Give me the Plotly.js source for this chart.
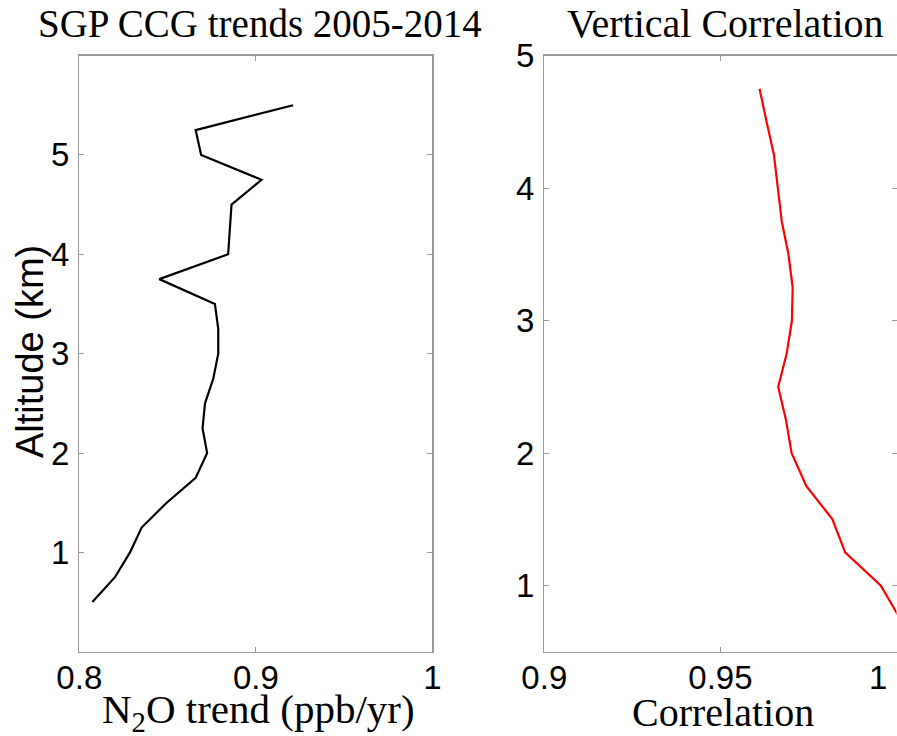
<!DOCTYPE html>
<html>
<head>
<meta charset="utf-8">
<script src="https://cdn.plot.ly/plotly-3.0.1.min.js"></script>
<style>html,body{margin:0;padding:0;background:#fff;}#chart{width:897px;height:736px;}</style>
</head>
<body>
<div id="chart"></div>
<script>
// Left panel: N2O trend profile
const altitudeTrend = [0.5, 0.75, 1.0, 1.25, 1.5, 1.75, 2.0, 2.25, 2.5, 2.75, 3.0, 3.25, 3.5, 3.75, 4.0, 4.5, 4.75, 5.0, 5.25, 5.5];
const n2oTrend = [0.8074, 0.8202, 0.8287, 0.8353, 0.8495, 0.8659, 0.8724, 0.8698, 0.8712, 0.8759, 0.8787, 0.8787, 0.8768, 0.8453, 0.8843, 0.8862, 0.9032, 0.8690, 0.8659, 0.9211];

// Right panel: vertical correlation profile
const altitudeCorr = [0.75, 1.0, 1.25, 1.5, 1.75, 2.0, 2.25, 2.5, 2.75, 3.0, 3.25, 3.5, 3.75, 4.0, 4.25, 4.5, 4.75];
const correlation = [1.0010, 0.9955, 0.9854, 0.9818, 0.9744, 0.9702, 0.9686, 0.9664, 0.9688, 0.9703, 0.9705, 0.9693, 0.9674, 0.9662, 0.9652, 0.9631, 0.9611];

const xTicksLeft = [0.8, 0.9, 1];
const xTickTextLeft = ['0.8', '0.9', '1'];
const yTicksLeft = [1, 2, 3, 4, 5];
const xTicksRight = [0.9, 0.95, 1];
const xTickTextRight = ['0.9', '0.95', '1\u00A0\u00A0\u00A0\u00A0'];
const yTicksRight = [1, 2, 3, 4, 5];

const serif = 'Liberation Serif, Times New Roman, serif';
const sans = 'Liberation Sans, Arial, Helvetica, sans-serif';
const axisColor = '#9a9a9a';

const traces = [
  {x: n2oTrend, y: altitudeTrend, type: 'scatter', mode: 'lines',
   line: {color: '#000000', width: 2.2}, xaxis: 'x', yaxis: 'y', showlegend: false, hoverinfo: 'skip'},
  {x: correlation, y: altitudeCorr, type: 'scatter', mode: 'lines',
   line: {color: '#ff0000', width: 2.2}, xaxis: 'x2', yaxis: 'y2', showlegend: false, hoverinfo: 'skip'}
];

function axisBase() {
  return {
    showline: true, linecolor: axisColor, linewidth: 1.3, mirror: 'ticks',
    ticks: 'inside', ticklen: 5, tickwidth: 1, tickcolor: axisColor,
    showgrid: false, zeroline: false, ticklabeloverflow: 'allow',
    tickfont: {family: sans, size: 33, color: '#000'}
  };
}

const layout = {
  width: 897, height: 736,
  margin: {l: 0, r: 0, t: 0, b: 0},
  paper_bgcolor: '#ffffff', plot_bgcolor: '#ffffff',
  showlegend: false,
  xaxis: Object.assign(axisBase(), {
    domain: [0.0884, 0.4821], range: [0.8, 1], tickvals: xTicksLeft, ticktext: xTickTextLeft,
    anchor: 'y', ticklabelstandoff: -4
  }),
  yaxis: Object.assign(axisBase(), {
    domain: [0.1145, 0.9245], range: [0, 6], tickvals: yTicksLeft,
    anchor: 'x', ticklabelstandoff: 2
  }),
  xaxis2: Object.assign(axisBase(), {
    domain: [0.6068, 0.9995], range: [0.9, 1], tickvals: xTicksRight, ticktext: xTickTextRight,
    anchor: 'y2', ticklabelstandoff: -4
  }),
  yaxis2: Object.assign(axisBase(), {
    domain: [0.1145, 0.9245], range: [0.5, 5], tickvals: yTicksRight,
    anchor: 'x2', ticklabelstandoff: 2
  }),
  annotations: [
    {text: 'SGP CCG trends 2005-2014', xref: 'paper', yref: 'paper', x: 260/897, y: 1 - 23/736,
     xanchor: 'center', yanchor: 'middle', showarrow: false, font: {family: serif, size: 39, color: '#000'}},
    {text: 'Vertical Correlation', xref: 'paper', yref: 'paper', x: 725/897, y: 1 - 23/736,
     xanchor: 'center', yanchor: 'middle', showarrow: false, font: {family: serif, size: 40, color: '#000'}},
    {text: 'N<sub>2</sub>O trend (ppb/yr)', xref: 'paper', yref: 'paper', x: 258/897, y: 1 - 712/736,
     xanchor: 'center', yanchor: 'middle', showarrow: false, font: {family: serif, size: 41, color: '#000'}},
    {text: 'Correlation', xref: 'paper', yref: 'paper', x: 723/897, y: 1 - 712/736,
     xanchor: 'center', yanchor: 'middle', showarrow: false, font: {family: serif, size: 40, color: '#000'}},
    {text: 'Altitude (km)', xref: 'paper', yref: 'paper', x: 30/897, y: 1 - 352/736,
     xanchor: 'center', yanchor: 'middle', textangle: -90, showarrow: false, font: {family: sans, size: 38, color: '#000'}}
  ]
};

Plotly.newPlot('chart', traces, layout, {staticPlot: true, displayModeBar: false});
</script>
</body>
</html>
